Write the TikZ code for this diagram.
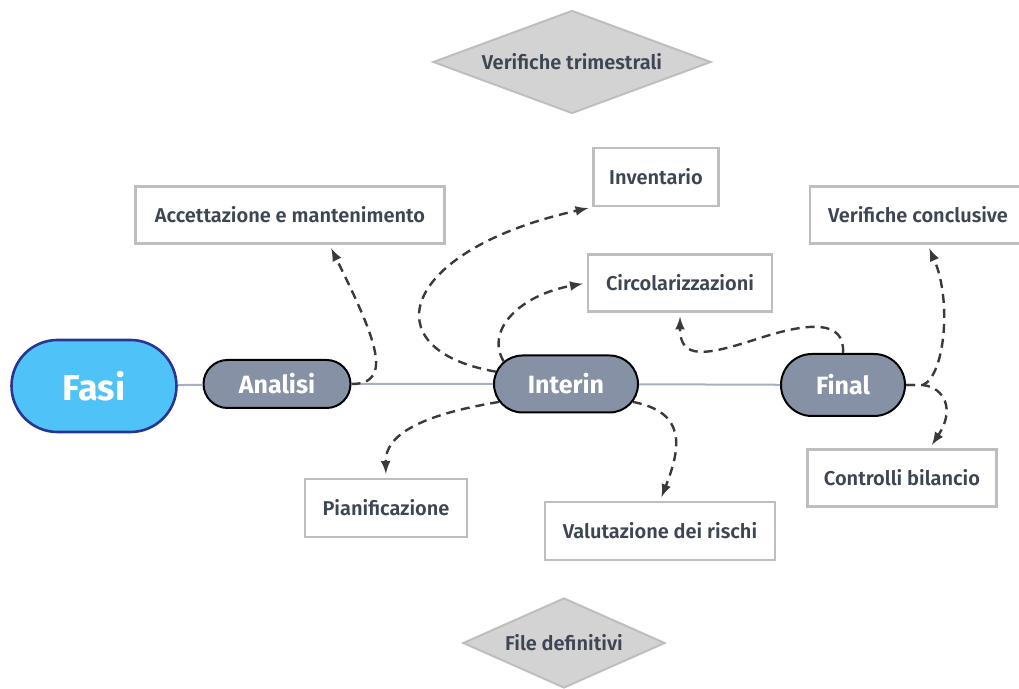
\documentclass[tikz,border=0pt]{standalone}
\usepackage{fontspec}
\setmainfont{Fira Sans}[UprightFont=* SemiBold,BoldFont=* Bold]
\usetikzlibrary{shapes.geometric,shapes.misc}
\definecolor{bleuciel}{HTML}{4FC3F7}
\definecolor{bleunuit}{HTML}{283593}
\definecolor{ardoise}{HTML}{8691A6}
\definecolor{texte}{HTML}{3F4653}
\definecolor{trait}{HTML}{3A3A3A}
\definecolor{ligne}{HTML}{A7AFC6}
\definecolor{gris}{HTML}{D3D3D3}
\definecolor{grisbord}{HTML}{BEBEBE}
\begin{document}
\begin{tikzpicture}[x=0.5pt,y=-0.5pt]
			\tikzstyle{fleche}=[->,>=latex,line width=1.2pt,draw=trait,dash pattern=on 4.5pt off 3pt,shorten >=2pt]
			\tikzstyle{axe}=[line width=1pt,draw=ligne]
			\tikzstyle{phase}=[rounded rectangle,draw=black,line width=1pt,fill=ardoise,text=white,font=\bfseries\fontsize{12.5}{14}\selectfont,inner sep=0pt]
			\tikzstyle{boite}=[rectangle,draw=grisbord,line width=1.2pt,fill=white,text=texte,font=\fontsize{10}{12}\selectfont,inner sep=0pt,minimum height=28.5pt]
			\tikzstyle{losange}=[diamond,aspect=2.7,draw=grisbord,line width=1pt,fill=gris,text=texte,font=\fontsize{10}{12}\selectfont,inner sep=0pt]
			\useasboundingbox (0,0) rectangle (1019,689);
			\node[losange,minimum width=139pt,minimum height=51.5pt] (VT) at (572,62) {Verifiche trimestrali};
			\node[losange,minimum width=101pt,minimum height=45pt] (FD) at (564,643) {File definitivi};
			\node[rounded rectangle,draw=bleunuit,line width=1.3pt,fill=bleuciel,text=white,font=\bfseries\fontsize{18}{20}\selectfont,minimum width=82.5pt,minimum height=46pt,inner sep=0pt] (Fasi) at (94,386) {Fasi};
			\node[phase,minimum width=73.5pt,minimum height=24pt] (Ana) at (277,384) {Analisi};
			\node[phase,minimum width=72pt,minimum height=28.5pt] (Int) at (566,384) {Interin};
			\node[phase,minimum width=62pt,minimum height=31pt] (Fin) at (843,385) {Final};
			\node[boite,minimum width=154.5pt] (Acc) at (290,215) {Accettazione e mantenimento};
			\node[boite,minimum width=62.5pt,minimum height=29pt] (Inv) at (656,177) {Inventario};
			\node[boite,minimum width=92pt] (Circ) at (680,283) {Circolarizzazioni};
			\node[boite,minimum width=108pt] (VC) at (918,215) {Verifiche conclusive};
			\node[boite,minimum width=94.5pt] (CB) at (902,478) {Controlli bilancio};
			\node[boite,minimum width=81pt,minimum height=29pt] (Pian) at (386,508) {Pianificazione};
			\node[boite,minimum width=115pt,minimum height=29pt] (Val) at (660,531) {Valutazione dei rischi};
			\draw[axe] (Fasi)--(Ana);
			\draw[axe] (Ana)--(Int);
			\draw[axe] (Int)--(Fin);
			\draw[fleche] (Ana.east) .. controls (395,384) and (375,337) .. (Acc.-37);
			\draw[fleche] (Int.170) .. controls (370,350) and (400,250) .. (Inv.south west);
			\draw[fleche] (Int.160) .. controls (485,330) and (520,295) .. (Circ.west);
			\draw[fleche] (Int.195) .. controls (420,415) and (385,435) .. (Pian.north);
			\draw[fleche] (Int.-15) .. controls (685,412) and (682,445) .. (Val.north);
			\draw[fleche] (Fin.north) .. controls (845,320) and (810,322) .. (760,338) .. controls (705,356) and (680,360) .. (Circ.south);
			\draw[fleche] (Fin.east) -- ++(17,0) .. controls (945,375) and (952,300) .. (VC.-72);
			\draw[fleche] (Fin.east) -- ++(17,0) .. controls (945,388) and (955,410) .. (CB.47);
\end{tikzpicture}
\end{document}
